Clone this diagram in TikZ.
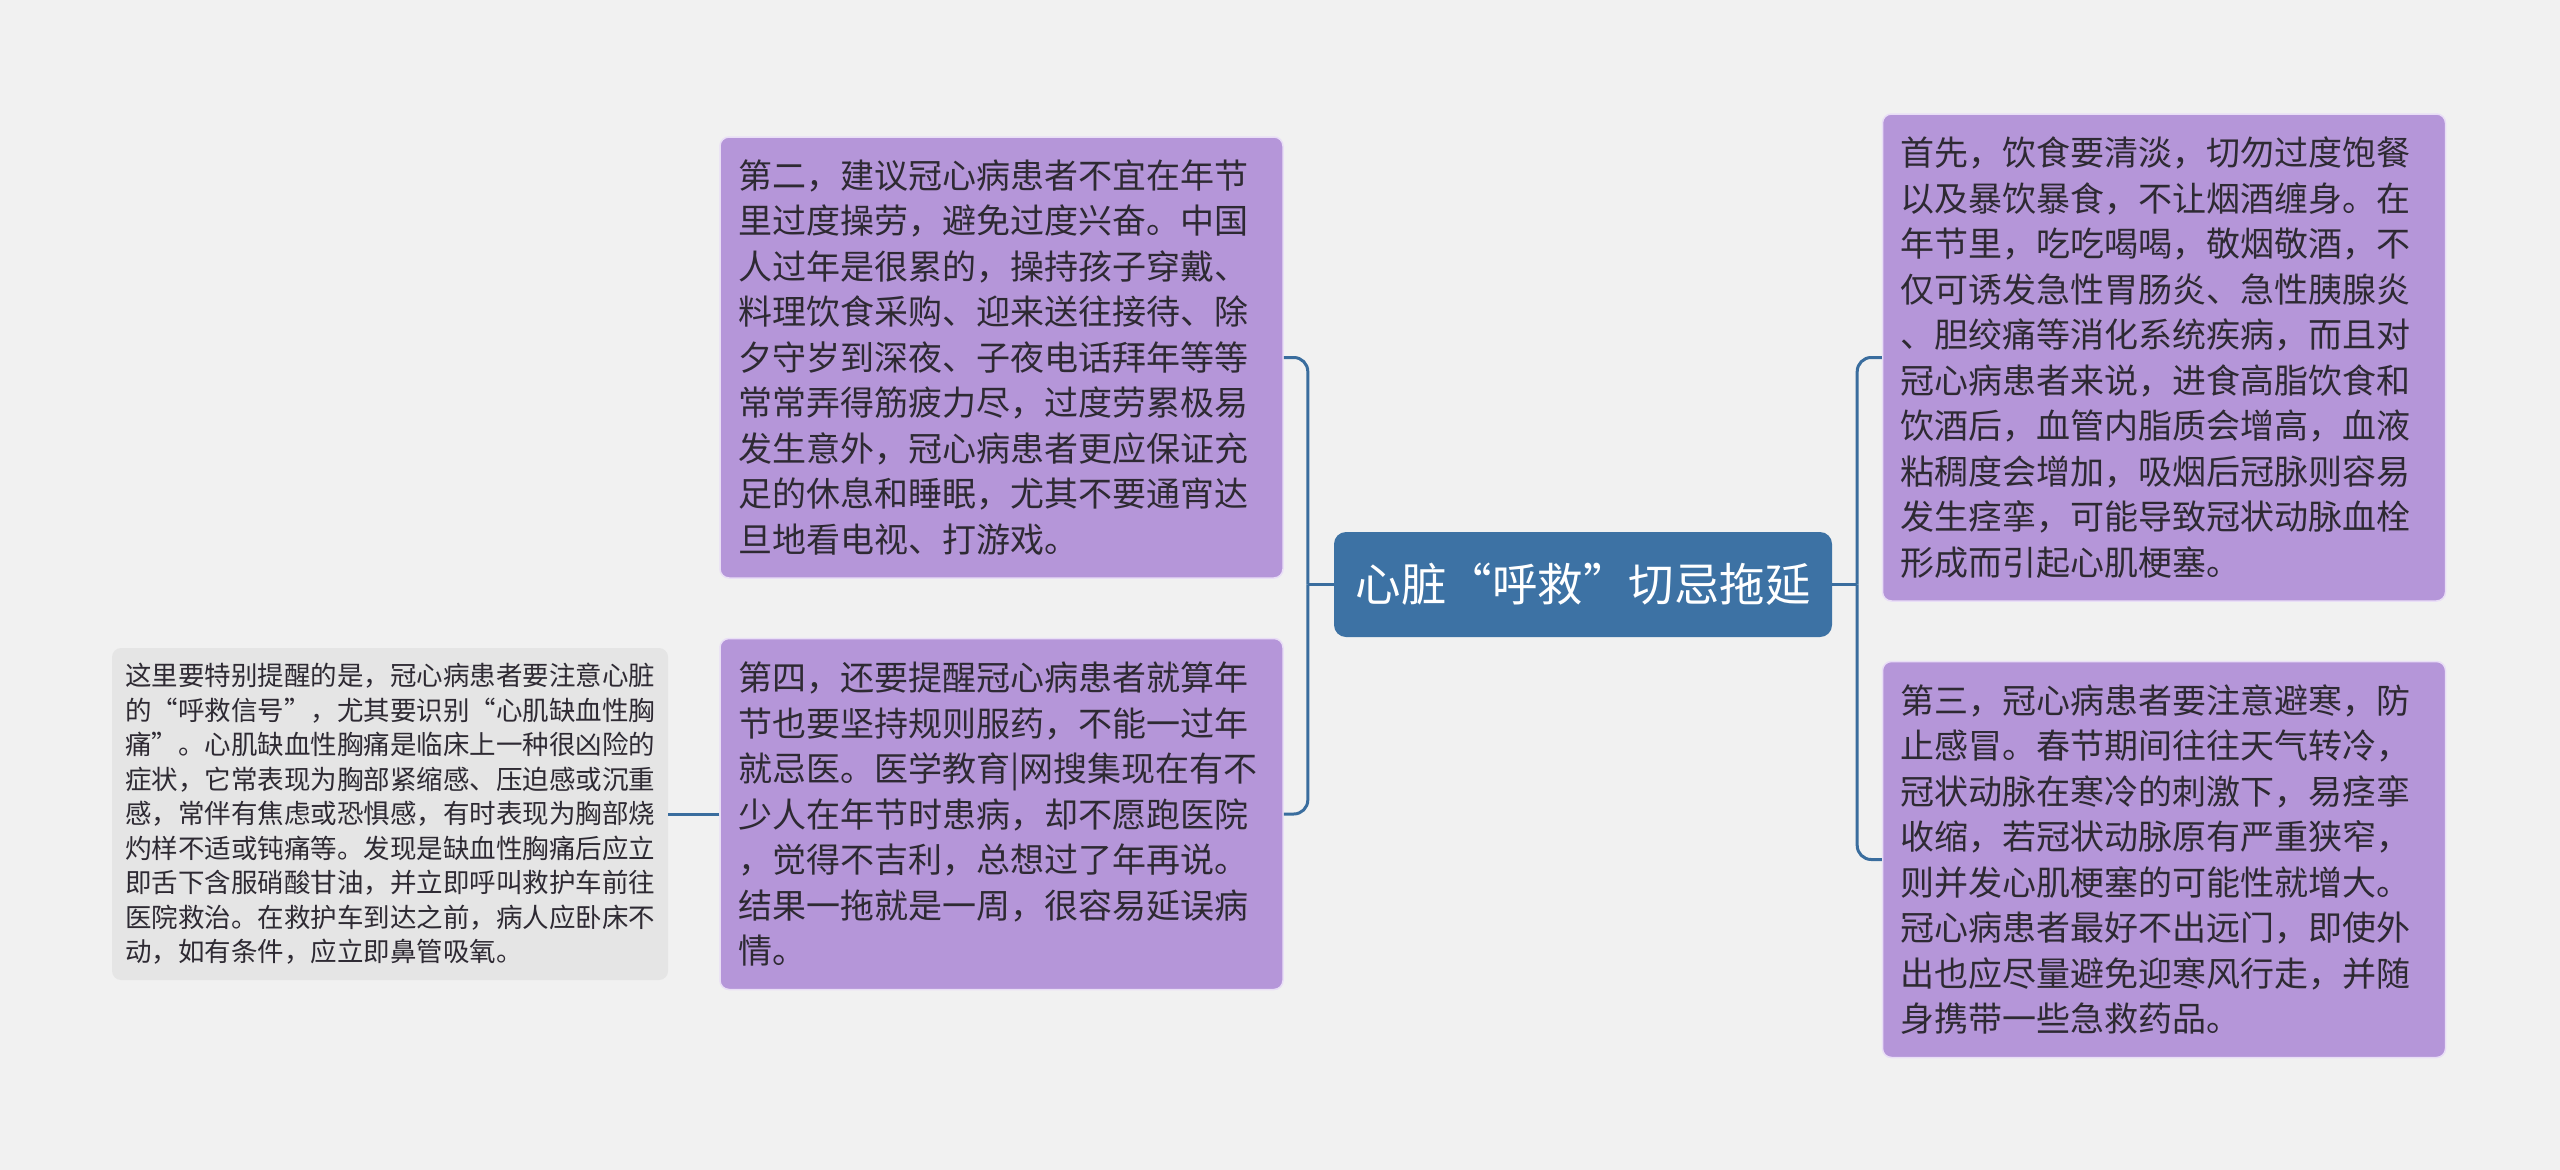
\documentclass[tikz,border=0pt]{standalone}
\usepackage{fontspec}
\setmainfont{Noto Sans CJK SC}
\newfontfamily\fwquote[CharacterWidth=Full]{Noto Sans CJK SC}
\newcommand\oq{{\fwquote “}}
\newcommand\cq{{\fwquote ”}}
\usepackage{tikz}
\usetikzlibrary{positioning}
\definecolor{mmbg}{HTML}{F1F1F1}
\definecolor{mmblue}{HTML}{3D72A4}
\definecolor{mmline}{HTML}{3A6D9E}
\definecolor{mmpurple}{HTML}{B596D9}
\definecolor{mmedge}{HTML}{E9DEF6}
\definecolor{mmgray}{HTML}{E5E5E5}
\definecolor{mmtext}{HTML}{2E2A33}
\tikzset{
  topic/.style={rectangle, rounded corners=12pt, fill=mmblue, text=white,
    font=\fontsize{45.5pt}{54pt}\selectfont, minimum width=498pt,
    minimum height=105pt, inner sep=0pt},
  leaf/.style={rectangle, rounded corners=9pt, draw=mmedge, line width=1.5pt,
    fill=mmpurple, text=mmtext, align=left, text width=527pt,
    inner xsep=18pt, inner ysep=0pt, font=\fontsize{34pt}{45.5pt}\selectfont},
  note/.style={rectangle, rounded corners=9pt, fill=mmgray, text=mmtext,
    align=left, text width=530pt, inner xsep=13pt, inner ysep=0pt,
    font=\fontsize{26.5pt}{34.5pt}\selectfont},
  conn/.style={draw=mmline, line width=3pt},
}

\begin{document}
\begin{tikzpicture}[x=1pt, y=-1pt]

\fill[mmbg] (0,0) rectangle (2560,1170);

% ---- centre ----
\node[topic] (root) at (1583,584.5) {心脏\oq 呼救\cq 切忌拖延};

% ---- left branch ----
\node[leaf, minimum height=441pt] (second) at (1001.5,357.5) {
  第二，建议冠心病患者不宜在年节\\
  里过度操劳，避免过度兴奋。中国\\
  人过年是很累的，操持孩子穿戴、\\
  料理饮食采购、迎来送往接待、除\\
  夕守岁到深夜、子夜电话拜年等等\\
  常常弄得筋疲力尽，过度劳累极易\\
  发生意外，冠心病患者更应保证充\\
  足的休息和睡眠，尤其不要通宵达\\
  旦地看电视、打游戏。
};
\node[leaf, minimum height=351pt, below=59pt of second] (fourth) {
  第四，还要提醒冠心病患者就算年\\
  节也要坚持规则服药，不能一过年\\
  就忌医。医学教育|网搜集现在有不\\
  少人在年节时患病，却不愿跑医院\\
  ，觉得不吉利，总想过了年再说。\\
  结果一拖就是一周，很容易延误病\\
  情。
};
\node[note, minimum height=332pt, left=51pt of fourth] (warn) {
  这里要特别提醒的是，冠心病患者要注意心脏\\
  的\oq 呼救信号\cq ，尤其要识别\oq 心肌缺血性胸\\
  痛\cq 。心肌缺血性胸痛是临床上一种很凶险的\\
  症状，它常表现为胸部紧缩感、压迫感或沉重\\
  感，常伴有焦虑或恐惧感，有时表现为胸部烧\\
  灼样不适或钝痛等。发现是缺血性胸痛后应立\\
  即舌下含服硝酸甘油，并立即呼叫救护车前往\\
  医院救治。在救护车到达之前，病人应卧床不\\
  动，如有条件，应立即鼻管吸氧。
};

% ---- right branch ----
\node[leaf, minimum height=487pt] (first) at (2164,357.5) {
  首先，饮食要清淡，切勿过度饱餐\\
  以及暴饮暴食，不让烟酒缠身。在\\
  年节里，吃吃喝喝，敬烟敬酒，不\\
  仅可诱发急性胃肠炎、急性胰腺炎\\
  、胆绞痛等消化系统疾病，而且对\\
  冠心病患者来说，进食高脂饮食和\\
  饮酒后，血管内脂质会增高，血液\\
  粘稠度会增加，吸烟后冠脉则容易\\
  发生痉挛，可能导致冠状动脉血栓\\
  形成而引起心肌梗塞。
};
\node[leaf, minimum height=396pt, below=59pt of first] (third) {
  第三，冠心病患者要注意避寒，防\\
  止感冒。春节期间往往天气转冷，\\
  冠状动脉在寒冷的刺激下，易痉挛\\
  收缩，若冠状动脉原有严重狭窄，\\
  则并发心肌梗塞的可能性就增大。\\
  冠心病患者最好不出远门，即使外\\
  出也应尽量避免迎寒风行走，并随\\
  身携带一些急救药品。
};

% ---- connectors ----
\coordinate[left=26pt of root.west] (ljoin);
\coordinate[right=25pt of root.east] (rjoin);
\draw[conn] (root.west) -- (ljoin);
\draw[conn, rounded corners=14pt] (ljoin) |- (second.east);
\draw[conn, rounded corners=14pt] (ljoin) |- (fourth.east);
\draw[conn] (root.east) -- (rjoin);
\draw[conn, rounded corners=14pt] (rjoin) |- (first.west);
\draw[conn, rounded corners=14pt] (rjoin) |- (third.west);
\draw[conn] (fourth.west) -- (warn.east);

\end{tikzpicture}
\end{document}
